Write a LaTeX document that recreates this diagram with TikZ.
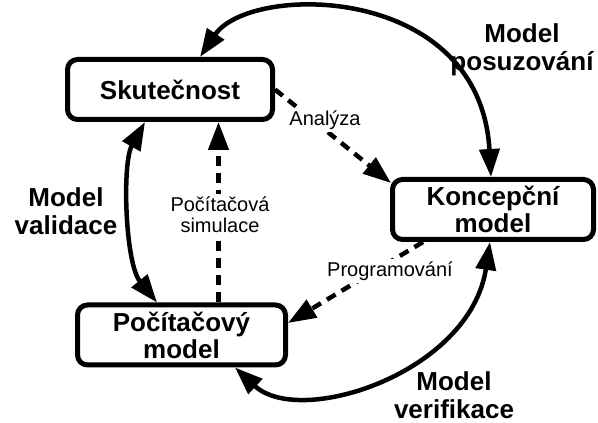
\documentclass[tikz,border=0pt]{standalone}
\usepackage{fontspec}
\setmainfont{Liberation Sans}
\usetikzlibrary{arrows.meta,positioning,calc}

\begin{document}
\begin{tikzpicture}[x=1pt,y=1pt,
  box/.style={shape=rectangle,draw,line width=5pt,rounded corners=10pt,fill=white,align=center,
    font=\bfseries\fontsize{26}{27}\selectfont,minimum height=60pt,inner sep=2pt},
  cycle/.style={line width=4.5pt,{Triangle[length=28pt,width=20pt]}-{Triangle[length=28pt,width=20pt]}},
  flow/.style={line width=4.5pt,dash pattern=on 10pt off 7pt,-{Triangle[length=28pt,width=20pt]}},
  lbl/.style={fill=white,align=center,font=\fontsize{20}{21}\selectfont,inner sep=3pt},
  phase/.style={align=center,font=\bfseries\fontsize{26}{28}\selectfont,inner sep=1pt}]

\path[use as bounding box,fill=white] (0,0) rectangle (598,423);

\node[box,minimum width=205pt] (S) at (170,333.5) {Skutečnost};
\node[box,minimum width=201pt] (K) at (493,213.5) {Koncepční\\model};
\node[box,minimum width=208pt] (P) at (181.5,88) {Počítačový\\model};

% cyklus modelu
\draw[cycle] ([xshift=30pt]S.north) .. controls (250,440) and (480,440) .. ([xshift=-2pt]K.north);
\draw[cycle] ([xshift=-25pt]S.south) .. controls (122,260) and (125,160) .. ([xshift=-24.5pt]P.north);
\draw[cycle] ([xshift=53.5pt]P.south) .. controls (300,-5) and (470,50) .. ([xshift=-3pt]K.south);

% prechody
\draw[flow] (S.east) -- ([shift={(1pt,-6pt)}]K.north west);
\draw[flow] ([xshift=37pt]P.north) -- ([xshift=37pt]P.north |- S.south);
\draw[flow] ([xshift=-70pt]K.south) -- ([yshift=12pt]P.east);

\node[lbl] (an) at (325,303) {Analýza};
\node[lbl] (si) at (220,208) {Počítačová\\simulace};
\node[lbl] (pr) at (390,152) {Programování};

\node[phase] (mp) at (522,373) {Model\\posuzování};
\node[phase] (mv) at (66,212) {Model\\validace};
\node[phase] (mf) at (454,28) {Model\\verifikace};
\end{tikzpicture}
\end{document}
